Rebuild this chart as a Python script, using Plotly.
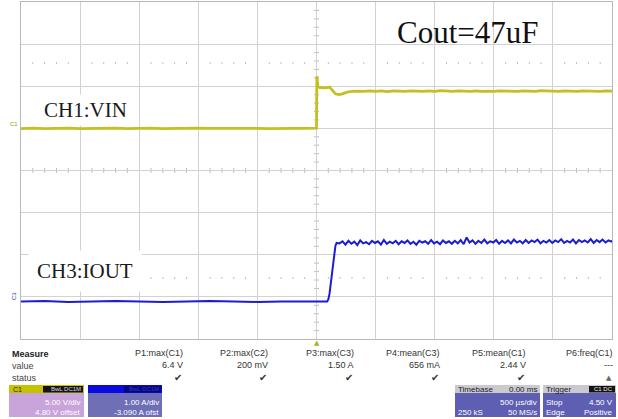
import plotly.graph_objects as go

# ---------------- data ----------------
# time in ms, 500 us/div, 10 divisions, trigger at 0
vin_pre_t = [-2.5, -2.4, -2.3, -2.2, -2.1, -2.0, -1.9, -1.8, -1.7, -1.6, -1.5, -1.4, -1.3,
             -1.2, -1.1, -1.0, -0.9, -0.8, -0.7, -0.6, -0.5, -0.4, -0.3, -0.2, -0.1, 0.0]
vin_pre_v = [0.18, 0.22, 0.16, 0.20, 0.24, 0.17, 0.21, 0.19, 0.23, 0.16, 0.20, 0.22, 0.18,
             0.21, 0.17, 0.23, 0.19, 0.20, 0.24, 0.18, 0.21, 0.17, 0.22, 0.19, 0.20, 0.22]
vin_edge_t = [0.003, 0.006, 0.012, 0.03, 0.06, 0.09, 0.11, 0.13, 0.16, 0.19, 0.22, 0.26, 0.30]
vin_edge_v = [6.4, 5.6, 5.15, 5.05, 5.0, 5.05, 5.1, 4.8, 4.3, 4.22, 4.3, 4.5, 4.6]
vin_post_v = [4.62, 4.58, 4.66, 4.60, 4.64, 4.57, 4.65, 4.61, 4.59, 4.66, 4.62, 4.58,
              4.64, 4.60, 4.67, 4.61, 4.58, 4.65, 4.62, 4.59, 4.66, 4.60, 4.63, 4.58,
              4.65, 4.61, 4.64, 4.59, 4.66, 4.62, 4.60, 4.67, 4.61, 4.63, 4.58, 4.65,
              4.62, 4.60, 4.66, 4.61, 4.64, 4.59, 4.65, 4.63]
vin_post_step = 0.05  # ms between samples read

iout_pre_t = [-2.5, -2.3, -2.1, -1.9, -1.7, -1.5, -1.3, -1.1, -0.9, -0.7, -0.5, -0.3,
              -0.1, 0.0, 0.05, 0.09]
iout_pre_i = [-0.02, -0.01, -0.03, -0.02, -0.01, -0.02, -0.03, -0.02, -0.01, -0.02,
              -0.03, -0.02, -0.01, -0.02, -0.02, -0.02]
iout_rise_t = [0.10, 0.11, 0.12, 0.13, 0.14, 0.15, 0.16, 0.17]
iout_rise_i = [0.03, 0.16, 0.38, 0.52, 0.76, 1.02, 1.30, 1.37]
iout_post_i = [1.36, 1.41, 1.33, 1.42, 1.35, 1.40, 1.32, 1.43, 1.36, 1.39,
               1.34, 1.42, 1.37, 1.41, 1.33, 1.44, 1.35, 1.40, 1.36, 1.42,
               1.34, 1.41, 1.37, 1.43, 1.35, 1.40, 1.33, 1.42, 1.38, 1.41,
               1.35, 1.44, 1.36, 1.40, 1.34, 1.43, 1.37, 1.41, 1.35, 1.42,
               1.36, 1.44, 1.34, 1.50, 1.38, 1.43, 1.35, 1.42, 1.37, 1.45,
               1.36, 1.41, 1.38, 1.44, 1.35, 1.42, 1.37, 1.43, 1.36, 1.45,
               1.38, 1.42, 1.36, 1.44, 1.37, 1.43, 1.39, 1.45, 1.36, 1.42,
               1.38, 1.44, 1.37, 1.43, 1.39, 1.46, 1.37, 1.42, 1.38, 1.45,
               1.36, 1.44, 1.39, 1.43, 1.38, 1.46, 1.37, 1.44, 1.39, 1.45,
               1.38, 1.43, 1.40, 1.46]
iout_post_step = 0.025

# channel settings
c1_vdiv, c1_offset = 5.00, 4.80     # V/div, V offset
c3_adiv, c3_offset = 1.00, -3.090   # A/div, A offset
time_div = 0.5                      # ms/div

measure_headers = ["P1:max(C1)", "P2:max(C2)", "P3:max(C3)", "P4:mean(C3)", "P5:mean(C1)", "P6:freq(C1)"]
measure_values = ["6.4 V", "200 mV", "1.50 A", "656 mA", "2.44 V", "---"]
measure_status = ["✔", "✔", "✔", "✔", "✔", "▲"]

# ---------------- build series ----------------
vin_post_t = [0.30 + vin_post_step * (k + 1) for k in range(len(vin_post_v))]
vin_t = vin_pre_t + vin_edge_t + vin_post_t
vin_v = vin_pre_v + vin_edge_v + vin_post_v

iout_post_t = [0.17 + iout_post_step * (k + 1) for k in range(len(iout_post_i))]
iout_t = iout_pre_t + iout_rise_t + iout_post_t
iout_i = iout_pre_i + iout_rise_i + iout_post_i

W, H = 618, 419
def px(x):
    return x / W
def py(y):
    return 1 - y / H

X0, X1, Y0, Y1 = 21, 612, 2, 339
xdom = [px(X0), px(X1)]
ydom = [py(Y1), py(Y0)]
YC = (Y0 + Y1) / 2
XC = (X0 + X1) / 2
DX = (X1 - X0) / 10
DY = (Y1 - Y0) / 8

YEL = "#c4bf22"
BLU = "#1c1cd0"
GRID = "#d2d2d2"
TICK = "#bdbdbd"

fig = go.Figure()
fig.add_trace(go.Scatter(x=vin_t, y=vin_v, xaxis="x", yaxis="y", mode="lines",
                         line=dict(color=YEL, width=2.8), hoverinfo="skip", showlegend=False))
fig.add_trace(go.Scatter(x=iout_t, y=iout_i, xaxis="x", yaxis="y2", mode="lines",
                         line=dict(color=BLU, width=2.0), hoverinfo="skip", showlegend=False))

trange = [-5 * time_div, 5 * time_div]
fig.update_layout(
    width=W, height=H, autosize=False, margin=dict(l=0, r=0, t=0, b=0, pad=0),
    paper_bgcolor="white", plot_bgcolor="rgba(0,0,0,0)",
    xaxis=dict(domain=xdom, range=trange, dtick=time_div, tick0=0, showgrid=True,
               gridcolor=GRID, gridwidth=1, zeroline=False, showticklabels=False,
               ticks="", showline=True, linecolor="#b8b8b8", mirror=True, fixedrange=True),
    yaxis=dict(domain=ydom, range=[-4 * c1_vdiv - c1_offset, 4 * c1_vdiv - c1_offset],
               dtick=c1_vdiv, tick0=-c1_offset, showgrid=True,
               gridcolor=GRID, gridwidth=1, zeroline=False, showticklabels=False,
               ticks="", showline=True, linecolor="#b8b8b8", mirror=True, fixedrange=True),
    yaxis2=dict(overlaying="y", range=[-4 * c3_adiv - c3_offset, 4 * c3_adiv - c3_offset],
                showgrid=False, zeroline=False, showticklabels=False, ticks="", showline=False,
                fixedrange=True),
)

shapes = []
ann = []

def seg(x0, y0, x1, y1, color=TICK):
    shapes.append(dict(type="line", xref="paper", yref="paper", x0=px(x0), x1=px(x1),
                       y0=py(y0), y1=py(y1), line=dict(color=color, width=1), layer="below"))

# minor tick decorations (1/5 division) on centre axes and dotted rows
for k in range(1, 50):
    if k % 5 == 0:
        continue
    xx = X0 + k * DX / 5
    seg(xx, YC - 2.5, xx, YC + 2.5)
    for yr in (YC - 2.55 * DY, YC + 2.55 * DY):
        seg(xx, yr - 1, xx, yr + 1)
for k in range(1, 40):
    if k % 5 == 0:
        continue
    yy = Y0 + k * DY / 5
    seg(XC - 2.5, yy, XC + 2.5, yy)

def rect(x0, y0, x1, y1, color):
    shapes.append(dict(type="rect", xref="paper", yref="paper", x0=px(x0), x1=px(x1),
                       y0=py(y1), y1=py(y0), fillcolor=color, line=dict(width=0),
                       layer="above"))

def text(s, x, y, size=9, color="#333", anchor="left", family="Liberation Sans, Arial",
         bold=False, bg=None, angle=0, pad=0):
    ann.append(dict(text=("<b>%s</b>" % s) if bold else s, xref="paper", yref="paper",
                    x=px(x), y=py(y), xanchor=anchor, yanchor="middle", showarrow=False,
                    font=dict(size=size, color=color, family=family), textangle=angle,
                    bgcolor=bg, borderpad=pad))

# overlay texts on the screen
text("Cout=47uF", 468, 32, size=31, color="#111", anchor="center",
     family="Liberation Serif, Times New Roman")
text("CH1:VIN", 85, 110, size=21, color="#1a1a1a", anchor="center",
     family="Liberation Serif, Times New Roman", bg="white", pad=3)
text("CH3:IOUT", 85, 271, size=21, color="#1a1a1a", anchor="center",
     family="Liberation Serif, Times New Roman", bg="white", pad=8)
text("C1", 14, 124, size=6, color="#9a9a30", anchor="center")
text("C3", 14, 296, size=6, color="#3030a0", anchor="center", angle=-90)
text("▲", 316.5, 343, size=7, color="#aab030", anchor="center", family="DejaVu Sans")

# measure table
text("Measure", 11, 354, size=9, color="#222", bold=True)
text("value", 11, 366, size=9, color="#444")
text("status", 11, 378, size=9, color="#444")
col_right = [184, 269, 355, 441, 527, 614]
for xr, hd, vl, st in zip(col_right, measure_headers, measure_values, measure_status):
    text(hd, xr, 353, size=9, color="#333", anchor="right")
    text(vl, xr, 365, size=9, color="#333", anchor="right")
    text(st, xr - 1, 377.5, size=10 if st == "✔" else 7, color="#333" if st == "✔" else "#666",
         anchor="right", family="DejaVu Sans")

# C1 box
rect(9, 385, 84, 417, "#c9a4da")
rect(9, 385, 84, 393, "#c6c200")
rect(43, 386, 83, 392.5, "#141414")
text("C1", 12, 389, size=7, color="#222")
text("BwL DC1M", 82, 389.2, size=6, color="#ddd", anchor="right")
text("5.00 V/div", 82, 402, size=8, color="white", anchor="right")
text("4.80 V offset", 82, 412, size=8, color="white", anchor="right")

# C3 box
rect(88, 385, 162, 417, "#6f6fb6")
rect(88, 385, 162, 393, "#0a0ae0")
rect(124, 386, 161, 392.5, "#05058a")
text("BwL DC1M", 160, 389.2, size=6, color="#3a3aa8", anchor="right")
text("1.00 A/div", 160, 402, size=8, color="white", anchor="right")
text("-3.090 A ofst", 160, 412, size=8, color="white", anchor="right")

# Timebase box
rect(455, 385, 540, 417, "#5e5eb2")
rect(455, 385, 540, 393, "#c9c9cf")
text("Timebase", 457, 389, size=8, color="#222")
text("0.00 ms", 538, 389, size=8, color="#222", anchor="right")
text("500 µs/div", 538, 402, size=8, color="white", anchor="right")
text("250 kS", 457, 412, size=8, color="white")
text("50 MS/s", 538, 412, size=8, color="white", anchor="right")

# Trigger box
rect(543, 385, 616, 417, "#5e5eb2")
rect(543, 385, 616, 393, "#c9c9cf")
rect(589, 386, 615, 392.5, "#141414")
text("Trigger", 545, 389, size=8, color="#222")
text("C1 DC", 614, 389.2, size=6, color="#eee", anchor="right")
text("Stop", 545, 402, size=8, color="white")
text("4.50 V", 614, 402, size=8, color="white", anchor="right")
text("Edge", 545, 412, size=8, color="white")
text("Positive", 614, 412, size=8, color="white", anchor="right")

fig.update_layout(shapes=shapes, annotations=ann)
fig.write_html("out.html", config={"displayModeBar": False},
               post_script="document.body.style.margin='0';document.body.style.padding='0';"
                           "document.documentElement.style.overflow='hidden';")
